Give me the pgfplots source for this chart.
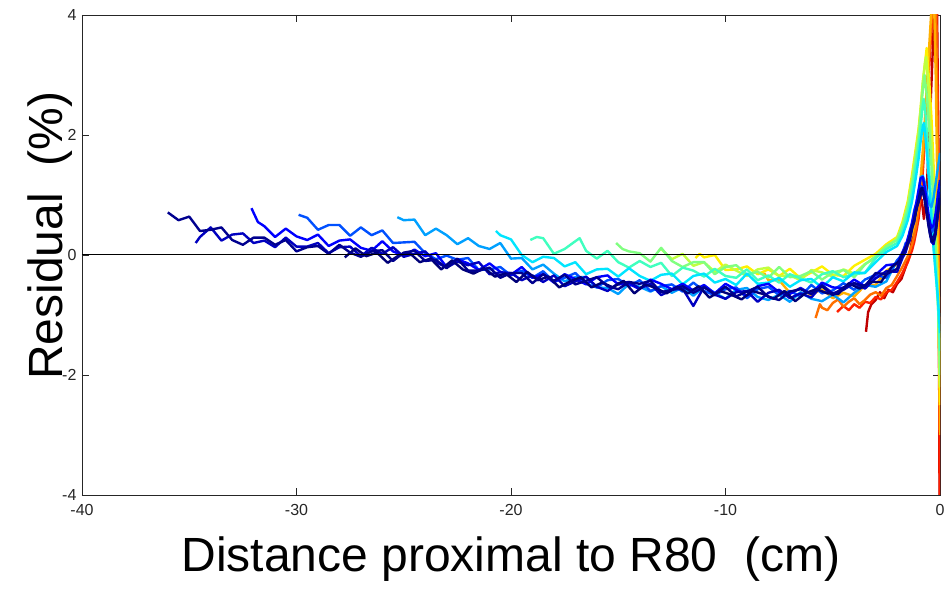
\documentclass[border=0pt]{standalone}
\usepackage{pgfplots}
\pgfplotsset{compat=1.18}
\usepackage{fontspec}
\setmainfont{Liberation Sans}
\definecolor{axgray}{RGB}{38,38,38}
\definecolor{c0}{HTML}{000078}
\definecolor{c1}{HTML}{00008F}
\definecolor{c2}{HTML}{0000C0}
\definecolor{c3}{HTML}{0000FF}
\definecolor{c4}{HTML}{0050FF}
\definecolor{c5}{HTML}{00A0FF}
\definecolor{c6}{HTML}{00E5FF}
\definecolor{c7}{HTML}{40FFBF}
\definecolor{c8}{HTML}{80FF80}
\definecolor{c9}{HTML}{C0FF40}
\definecolor{c10}{HTML}{FFF000}
\definecolor{c11}{HTML}{FFB000}
\definecolor{c12}{HTML}{FF7000}
\definecolor{c13}{HTML}{FF2000}
\definecolor{c14}{HTML}{C00000}
\begin{document}
\begin{tikzpicture}
\useasboundingbox (-82pt,-98pt) rectangle (869pt,495pt);
\begin{axis}[
  at={(0pt,0pt)}, anchor=south west,
  scale only axis, width=858pt, height=480pt,
  xmin=-40, xmax=0, ymin=-4, ymax=4,
  xtick={-40,-30,-20,-10,0}, ytick={-4,-2,0,2,4},
  tick align=inside, major tick length=7pt,
  axis line style={draw=axgray, line width=0.8pt},
  tick style={draw=axgray, line width=0.8pt},
  /pgf/number format/assume math mode=true,
  ticklabel style={font=\fontsize{16}{19}\selectfont, text=axgray},
  xticklabel style={yshift=-6pt},
  yticklabel style={xshift=-2pt},
  xlabel={Distance proximal to R80\ \ (cm)},
  ylabel={Residual\ \ (\%)},
  xlabel style={at={(axis description cs:0.5,-0.1604)}, anchor=base, font=\fontsize{48}{52}\selectfont},
  ylabel style={at={(axis description cs:-0.0233,0.54)}, anchor=base, font=\fontsize{48}{52}\selectfont},
  every axis plot/.append style={mark=none, line width=2.4pt, line join=round},
  clip=true,
]
% dark red
\addplot[c14] coordinates {(-3.45,-1.28)(-3.35,-0.95)(-3.2,-0.82)(-3.0,-0.75)(-2.8,-0.62)(-2.6,-0.72)(-2.4,-0.58)(-2.2,-0.62)(-2.0,-0.48)(-1.8,-0.40)(-1.6,-0.20)(-1.4,0.05)(-1.25,0.35)(-1.1,0.55)(-1.0,0.72)(-0.9,0.88)(-0.85,0.92)(-0.75,0.60)(-0.65,0.90)(-0.55,1.60)(-0.45,2.40)(-0.35,3.30)(-0.25,4.20)(-0.15,4.60)(-0.08,2.00)(-0.04,-1.50)(-0.02,-4.50)};
\addplot[c13] coordinates {(-4.8,-0.95)(-4.5,-0.85)(-4.25,-0.92)(-4.0,-0.82)(-3.75,-0.88)(-3.5,-0.78)(-3.25,-0.80)(-3.0,-0.70)(-2.75,-0.74)(-2.5,-0.62)(-2.25,-0.58)(-2.0,-0.45)(-1.75,-0.30)(-1.5,-0.12)(-1.3,0.08)(-1.2,0.22)(-1.1,0.40)(-1.0,0.60)(-0.9,0.95)(-0.8,1.40)(-0.7,1.95)(-0.6,2.55)(-0.5,3.15)(-0.4,3.75)(-0.3,4.30)(-0.2,4.70)(-0.1,2.50)(-0.05,-1.50)(0,-4.50)};
\addplot[c12] coordinates {(-5.8,-1.05)(-5.6,-0.82)(-5.5,-0.88)(-5.25,-0.92)(-5.0,-0.80)(-4.75,-0.74)(-4.5,-0.86)(-4.25,-0.78)(-4.0,-0.72)(-3.75,-0.82)(-3.5,-0.75)(-3.25,-0.66)(-3.0,-0.62)(-2.75,-0.68)(-2.5,-0.55)(-2.25,-0.50)(-2.0,-0.35)(-1.75,-0.20)(-1.5,-0.02)(-1.3,0.18)(-1.2,0.32)(-1.1,0.50)(-1.0,0.75)(-0.9,1.10)(-0.8,1.55)(-0.7,2.10)(-0.6,2.70)(-0.5,3.30)(-0.4,3.90)(-0.3,4.40)(-0.2,4.70)(-0.1,1.50)(-0.05,-1.00)(0,-2.50)};
\addplot[c11] coordinates {(-8.2,-0.30)(-8.0,-0.42)(-7.5,-0.42)(-7.0,-0.63)(-6.5,-0.55)(-6.0,-0.67)(-5.5,-0.56)(-5.0,-0.72)(-4.5,-0.63)(-4.0,-0.69)(-3.5,-0.51)(-3.0,-0.50)(-2.5,-0.26)(-2.0,-0.16)(-1.75,-0.02)(-1.5,0.15)(-1.3,0.35)(-1.2,0.50)(-1.1,0.70)(-1.0,0.95)(-0.9,1.30)(-0.8,1.75)(-0.7,2.30)(-0.6,2.90)(-0.5,3.50)(-0.4,4.10)(-0.3,4.60)(-0.2,3.00)(-0.1,0.50)(0,-3.00)};
\addplot[c10] coordinates {(-11.4,-0.05)(-11.2,0.02)(-11.0,-0.04)(-10.5,0.00)(-10.0,-0.25)(-9.5,-0.24)(-9.0,-0.19)(-8.5,-0.32)(-8.0,-0.24)(-7.5,-0.35)(-7.0,-0.23)(-6.5,-0.39)(-6.0,-0.29)(-5.5,-0.19)(-5.0,-0.33)(-4.5,-0.35)(-4.0,-0.18)(-3.5,-0.08)(-3.0,0.02)(-2.5,0.18)(-2.0,0.30)(-1.75,0.55)(-1.5,0.90)(-1.3,1.35)(-1.2,1.60)(-1.1,1.85)(-1.0,2.10)(-0.9,2.45)(-0.8,2.85)(-0.7,3.20)(-0.62,3.45)(-0.55,3.10)(-0.5,2.90)(-0.4,2.30)(-0.3,1.50)(-0.2,0.60)(-0.1,-0.50)(0,-2.50)};
\addplot[c9] coordinates {(-13.1,0.08)(-13.0,0.10)(-12.5,-0.07)(-12.0,0.02)(-11.5,-0.18)(-11.0,-0.12)(-10.5,-0.28)(-10.0,-0.16)(-9.5,-0.26)(-9.0,-0.35)(-8.5,-0.24)(-8.0,-0.21)(-7.5,-0.35)(-7.0,-0.34)(-6.5,-0.42)(-6.0,-0.25)(-5.5,-0.29)(-5.0,-0.36)(-4.5,-0.24)(-4.0,-0.31)(-3.5,-0.15)(-3.0,-0.05)(-2.5,0.12)(-2.0,0.28)(-1.75,0.50)(-1.5,0.85)(-1.3,1.28)(-1.2,1.52)(-1.1,1.78)(-1.0,2.05)(-0.9,2.45)(-0.8,2.90)(-0.7,3.20)(-0.65,3.30)(-0.55,2.90)(-0.5,2.50)(-0.4,1.90)(-0.3,1.10)(-0.2,0.30)(-0.1,-0.60)(0,-2.20)};
\addplot[c8] coordinates {(-15.1,0.20)(-14.8,0.10)(-14.5,0.06)(-14.0,0.03)(-13.5,-0.11)(-13.0,0.12)(-12.5,-0.10)(-12.0,-0.20)(-11.5,-0.12)(-11.0,-0.12)(-10.5,-0.32)(-10.0,-0.20)(-9.5,-0.17)(-9.0,-0.33)(-8.5,-0.28)(-8.0,-0.38)(-7.5,-0.20)(-7.0,-0.37)(-6.5,-0.35)(-6.0,-0.27)(-5.5,-0.41)(-5.0,-0.29)(-4.5,-0.25)(-4.0,-0.37)(-3.5,-0.16)(-3.0,-0.02)(-2.5,0.15)(-2.0,0.25)(-1.75,0.48)(-1.5,0.80)(-1.3,1.20)(-1.2,1.45)(-1.1,1.70)(-1.0,1.95)(-0.9,2.35)(-0.8,2.75)(-0.72,3.00)(-0.6,2.60)(-0.5,2.10)(-0.4,1.50)(-0.3,0.80)(-0.2,0.10)(-0.1,-0.70)(0,-2.00)};
\addplot[c7] coordinates {(-19.1,0.25)(-18.8,0.30)(-18.5,0.28)(-18.0,0.02)(-17.5,0.10)(-17.0,0.23)(-16.8,0.28)(-16.5,0.07)(-16.0,-0.06)(-15.5,0.07)(-15.0,-0.12)(-14.5,-0.21)(-14.0,-0.10)(-13.5,-0.20)(-13.0,-0.13)(-12.5,-0.35)(-12.0,-0.21)(-11.5,-0.26)(-11.0,-0.36)(-10.5,-0.23)(-10.0,-0.35)(-9.5,-0.38)(-9.0,-0.24)(-8.5,-0.42)(-8.0,-0.34)(-7.5,-0.46)(-7.0,-0.32)(-6.5,-0.39)(-6.0,-0.46)(-5.5,-0.32)(-5.0,-0.27)(-4.5,-0.37)(-4.0,-0.32)(-3.5,-0.30)(-3.0,-0.05)(-2.5,0.10)(-2.0,0.20)(-1.75,0.40)(-1.5,0.70)(-1.3,1.05)(-1.2,1.30)(-1.1,1.55)(-1.0,1.80)(-0.9,2.15)(-0.8,2.50)(-0.75,2.60)(-0.7,2.45)(-0.6,2.00)(-0.5,1.40)(-0.4,0.80)(-0.3,0.20)(-0.2,-0.30)(-0.1,-0.80)(0,-1.60)};
\addplot[c6] coordinates {(-20.7,0.40)(-20.5,0.33)(-20.0,0.26)(-19.5,0.00)(-19.0,-0.12)(-18.5,-0.03)(-18.0,-0.05)(-17.5,-0.19)(-17.0,-0.12)(-16.5,-0.32)(-16.0,-0.24)(-15.5,-0.23)(-15.0,-0.36)(-14.5,-0.22)(-14.0,-0.35)(-13.5,-0.43)(-13.0,-0.33)(-12.5,-0.31)(-12.0,-0.49)(-11.5,-0.35)(-11.0,-0.31)(-10.5,-0.46)(-10.0,-0.40)(-9.5,-0.50)(-9.0,-0.31)(-8.5,-0.48)(-8.0,-0.46)(-7.5,-0.38)(-7.0,-0.53)(-6.5,-0.42)(-6.0,-0.40)(-5.5,-0.54)(-5.0,-0.37)(-4.5,-0.44)(-4.0,-0.29)(-3.5,-0.30)(-3.0,-0.12)(-2.5,0.05)(-2.0,0.15)(-1.75,0.32)(-1.5,0.58)(-1.3,0.90)(-1.2,1.12)(-1.1,1.35)(-1.0,1.60)(-0.9,1.90)(-0.8,2.15)(-0.75,2.20)(-0.7,2.05)(-0.6,1.65)(-0.5,1.15)(-0.4,0.60)(-0.3,0.10)(-0.2,-0.30)(-0.1,-0.70)(0,-1.30)};
\addplot[c5] coordinates {(-25.3,0.63)(-25.0,0.58)(-24.5,0.59)(-24.0,0.33)(-23.5,0.44)(-23.0,0.33)(-22.5,0.18)(-22.0,0.28)(-21.5,0.15)(-21.0,0.10)(-20.5,0.20)(-20.0,-0.06)(-19.5,-0.05)(-19.0,-0.24)(-18.5,-0.16)(-18.0,-0.31)(-17.5,-0.44)(-17.0,-0.37)(-16.5,-0.37)(-16.0,-0.54)(-15.5,-0.55)(-15.0,-0.65)(-14.5,-0.48)(-14.0,-0.53)(-13.5,-0.61)(-13.0,-0.52)(-12.5,-0.63)(-12.0,-0.54)(-11.5,-0.68)(-11.0,-0.53)(-10.5,-0.63)(-10.0,-0.73)(-9.5,-0.58)(-9.0,-0.55)(-8.5,-0.70)(-8.0,-0.75)(-7.5,-0.66)(-7.0,-0.78)(-6.5,-0.62)(-6.0,-0.73)(-5.5,-0.77)(-5.0,-0.66)(-4.5,-0.79)(-4.0,-0.63)(-3.5,-0.50)(-3.0,-0.53)(-2.5,-0.44)(-2.0,-0.09)(-1.75,-0.02)(-1.6,0.15)(-1.5,0.22)(-1.4,0.42)(-1.3,0.52)(-1.2,0.75)(-1.1,0.85)(-1.0,1.05)(-0.9,1.30)(-0.8,1.32)(-0.7,1.20)(-0.6,1.00)(-0.5,0.85)(-0.4,0.80)(-0.3,0.95)(-0.2,1.20)(-0.1,1.45)(0,1.70)};
\addplot[c4] coordinates {(-29.9,0.67)(-29.5,0.62)(-29.0,0.42)(-28.5,0.50)(-28.0,0.50)(-27.5,0.32)(-27.0,0.46)(-26.5,0.33)(-26.0,0.41)(-25.5,0.20)(-25.0,0.21)(-24.5,0.22)(-24.0,0.03)(-23.5,-0.07)(-23.0,-0.01)(-22.5,-0.08)(-22.0,-0.05)(-21.5,-0.25)(-21.0,-0.24)(-20.5,-0.20)(-20.0,-0.34)(-19.5,-0.26)(-19.0,-0.38)(-18.5,-0.27)(-18.0,-0.45)(-17.5,-0.38)(-17.0,-0.30)(-16.5,-0.48)(-16.0,-0.54)(-15.5,-0.42)(-15.0,-0.40)(-14.5,-0.52)(-14.0,-0.42)(-13.5,-0.60)(-13.0,-0.52)(-12.5,-0.49)(-12.0,-0.61)(-11.5,-0.46)(-11.0,-0.60)(-10.5,-0.67)(-10.0,-0.57)(-9.5,-0.54)(-9.0,-0.72)(-8.5,-0.57)(-8.0,-0.53)(-7.5,-0.67)(-7.0,-0.60)(-6.5,-0.69)(-6.0,-0.50)(-5.5,-0.64)(-5.0,-0.59)(-4.5,-0.47)(-4.0,-0.58)(-3.5,-0.41)(-3.0,-0.33)(-2.5,-0.38)(-2.0,-0.09)(-1.75,0.02)(-1.6,0.20)(-1.5,0.18)(-1.4,0.40)(-1.3,0.45)(-1.2,0.68)(-1.1,0.78)(-1.0,0.98)(-0.9,1.15)(-0.8,1.12)(-0.7,0.95)(-0.6,0.72)(-0.5,0.50)(-0.4,0.38)(-0.3,0.42)(-0.2,0.60)(-0.1,0.90)(0,1.15)};
\addplot[c3] coordinates {(-32.1,0.78)(-31.8,0.55)(-31.5,0.48)(-31.0,0.30)(-30.5,0.44)(-30.0,0.31)(-29.5,0.25)(-29.0,0.34)(-28.5,0.15)(-28.0,0.24)(-27.5,0.26)(-27.0,0.12)(-26.5,0.07)(-26.0,0.23)(-25.5,0.06)(-25.0,-0.01)(-24.5,0.09)(-24.0,-0.02)(-23.5,0.03)(-23.0,-0.20)(-22.5,-0.07)(-22.0,-0.14)(-21.5,-0.25)(-21.0,-0.14)(-20.5,-0.28)(-20.0,-0.33)(-19.5,-0.20)(-19.0,-0.38)(-18.5,-0.32)(-18.0,-0.46)(-17.5,-0.32)(-17.0,-0.40)(-16.5,-0.49)(-16.0,-0.37)(-15.5,-0.34)(-15.0,-0.49)(-14.5,-0.48)(-14.0,-0.57)(-13.5,-0.41)(-13.0,-0.48)(-12.5,-0.57)(-12.0,-0.48)(-11.5,-0.59)(-11.0,-0.50)(-10.5,-0.64)(-10.0,-0.48)(-9.5,-0.58)(-9.0,-0.68)(-8.5,-0.52)(-8.0,-0.48)(-7.5,-0.62)(-7.0,-0.65)(-6.5,-0.55)(-6.0,-0.65)(-5.5,-0.46)(-5.0,-0.54)(-4.5,-0.55)(-4.0,-0.41)(-3.5,-0.52)(-3.0,-0.33)(-2.5,-0.17)(-2.0,-0.15)(-1.75,0.05)(-1.6,0.15)(-1.5,0.28)(-1.4,0.40)(-1.3,0.55)(-1.2,0.72)(-1.1,0.88)(-1.0,1.08)(-0.9,1.28)(-0.8,1.30)(-0.7,1.10)(-0.6,0.85)(-0.5,0.60)(-0.4,0.45)(-0.3,0.50)(-0.2,0.70)(-0.1,1.00)(0,1.25)};
\addplot[c2] coordinates {(-34.7,0.20)(-34.5,0.30)(-34.0,0.46)(-33.5,0.24)(-33.0,0.34)(-32.5,0.36)(-32.0,0.20)(-31.5,0.24)(-31.0,0.13)(-30.5,0.29)(-30.0,0.14)(-29.5,0.14)(-29.0,0.20)(-28.5,0.03)(-28.0,0.13)(-27.5,0.14)(-27.0,-0.02)(-26.5,0.12)(-26.0,0.02)(-25.5,0.13)(-25.0,-0.03)(-24.5,0.02)(-24.0,0.06)(-23.5,-0.12)(-23.0,-0.21)(-22.5,-0.11)(-22.0,-0.17)(-21.5,-0.12)(-21.0,-0.32)(-20.5,-0.29)(-20.0,-0.30)(-19.5,-0.42)(-19.0,-0.34)(-18.5,-0.45)(-18.0,-0.34)(-17.5,-0.52)(-17.0,-0.44)(-16.5,-0.36)(-16.0,-0.53)(-15.5,-0.60)(-15.0,-0.47)(-14.5,-0.45)(-14.0,-0.56)(-13.5,-0.48)(-13.0,-0.67)(-12.5,-0.58)(-12.0,-0.56)(-11.5,-0.85)(-11.0,-0.53)(-10.5,-0.66)(-10.0,-0.73)(-9.5,-0.62)(-9.0,-0.60)(-8.5,-0.78)(-8.0,-0.63)(-7.5,-0.58)(-7.0,-0.72)(-6.5,-0.64)(-6.0,-0.71)(-5.5,-0.50)(-5.0,-0.64)(-4.5,-0.58)(-4.0,-0.47)(-3.5,-0.56)(-3.0,-0.39)(-2.5,-0.27)(-2.0,-0.28)(-1.75,-0.05)(-1.6,0.05)(-1.5,0.18)(-1.4,0.25)(-1.3,0.45)(-1.2,0.55)(-1.1,0.78)(-1.0,0.90)(-0.9,1.10)(-0.8,1.12)(-0.7,0.95)(-0.6,0.70)(-0.5,0.42)(-0.4,0.22)(-0.3,0.18)(-0.2,0.35)(-0.1,0.68)(0,1.05)};
\addplot[c0] coordinates {(-27.75,-0.04)(-27.25,0.11)(-26.75,-0.02)(-26.25,0.04)(-25.75,-0.13)(-25.25,-0.01)(-24.75,0.04)(-24.25,-0.12)(-23.75,-0.06)(-23.25,-0.24)(-22.75,-0.09)(-22.25,-0.24)(-21.75,-0.31)(-21.25,-0.22)(-20.75,-0.36)(-20.25,-0.31)(-19.75,-0.45)(-19.25,-0.28)(-18.75,-0.42)(-18.25,-0.36)(-17.75,-0.54)(-17.25,-0.44)(-16.75,-0.37)(-16.25,-0.54)(-15.75,-0.46)(-15.25,-0.54)(-14.75,-0.43)(-14.25,-0.64)(-13.75,-0.49)(-13.25,-0.55)(-12.75,-0.64)(-12.25,-0.53)(-11.75,-0.64)(-11.25,-0.52)(-10.75,-0.71)(-10.25,-0.60)(-9.75,-0.66)(-9.25,-0.74)(-8.75,-0.60)(-8.25,-0.65)(-7.75,-0.73)(-7.25,-0.60)(-6.75,-0.77)(-6.25,-0.63)(-5.75,-0.57)(-5.25,-0.64)(-4.75,-0.65)(-4.25,-0.47)(-3.75,-0.56)(-3.25,-0.45)(-2.75,-0.45)(-2.25,-0.20)(-1.9,-0.10)(-1.7,0.05)(-1.5,0.20)(-1.3,0.45)(-1.1,0.75)(-1.0,0.92)(-0.9,1.08)(-0.85,1.12)(-0.75,1.00)(-0.65,0.78)(-0.55,0.52)(-0.45,0.32)(-0.35,0.22)(-0.25,0.30)(-0.15,0.55)(-0.05,0.85)(0,0.95)};
\addplot[c1] coordinates {(-36.0,0.71)(-35.5,0.58)(-35.0,0.64)(-34.5,0.40)(-34.0,0.42)(-33.5,0.46)(-33.0,0.25)(-32.5,0.17)(-32.0,0.29)(-31.5,0.29)(-31.0,0.17)(-30.5,0.25)(-30.0,0.06)(-29.5,0.13)(-29.0,0.15)(-28.5,0.02)(-28.0,0.17)(-27.5,0.04)(-27.0,-0.03)(-26.5,0.06)(-26.0,0.08)(-25.5,-0.10)(-25.0,0.04)(-24.5,0.07)(-24.0,-0.10)(-23.5,-0.08)(-23.0,-0.22)(-22.5,-0.06)(-22.0,-0.26)(-21.5,-0.26)(-21.0,-0.21)(-20.5,-0.38)(-20.0,-0.30)(-19.5,-0.30)(-19.0,-0.47)(-18.5,-0.32)(-18.0,-0.43)(-17.5,-0.33)(-17.0,-0.49)(-16.5,-0.43)(-16.0,-0.37)(-15.5,-0.52)(-15.0,-0.57)(-14.5,-0.45)(-14.0,-0.48)(-13.5,-0.43)(-13.0,-0.62)(-12.5,-0.58)(-12.0,-0.52)(-11.5,-0.63)(-11.0,-0.54)(-10.5,-0.65)(-10.0,-0.53)(-9.5,-0.69)(-9.0,-0.61)(-8.5,-0.53)(-8.0,-0.70)(-7.5,-0.75)(-7.0,-0.61)(-6.5,-0.57)(-6.0,-0.65)(-5.5,-0.52)(-5.0,-0.67)(-4.5,-0.54)(-4.0,-0.47)(-3.5,-0.52)(-3.0,-0.30)(-2.5,-0.32)(-2.0,-0.23)(-1.75,0.02)(-1.6,0.10)(-1.5,0.22)(-1.4,0.30)(-1.3,0.48)(-1.2,0.58)(-1.1,0.78)(-1.0,0.88)(-0.9,1.00)(-0.8,1.05)(-0.7,0.90)(-0.6,0.68)(-0.5,0.45)(-0.4,0.30)(-0.3,0.28)(-0.2,0.42)(-0.1,0.70)(0,0.95)};
% zero line
\addplot[black, line width=1pt] coordinates {(-40,0)(0,0)};
\end{axis}
\end{tikzpicture}
\end{document}
